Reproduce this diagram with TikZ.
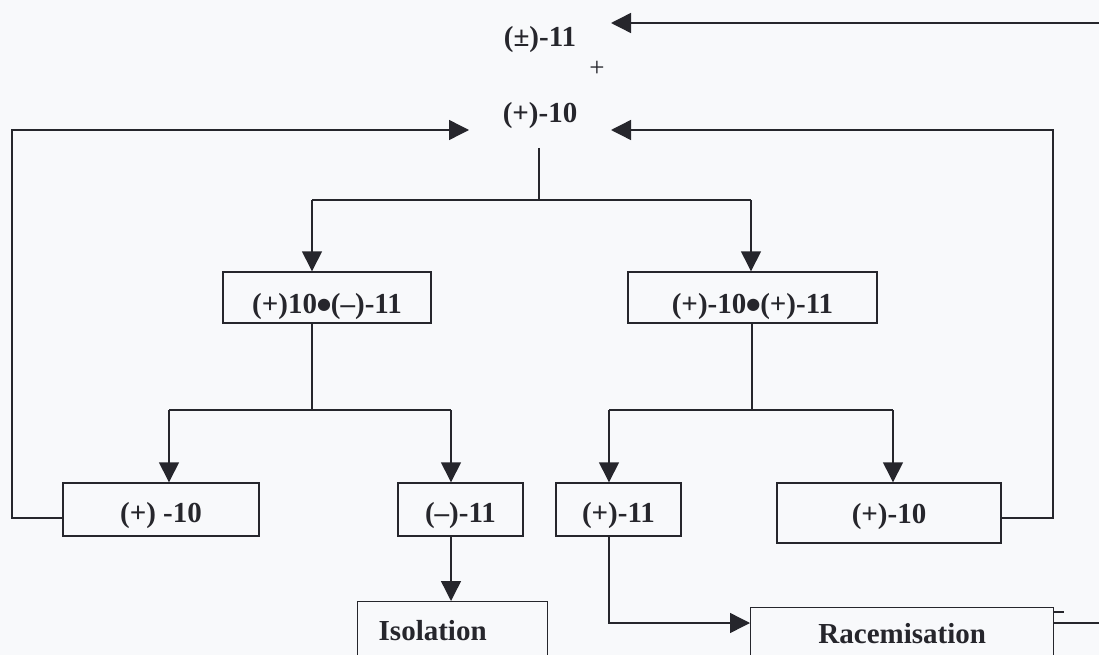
\documentclass[tikz,border=0pt]{standalone}
\usepackage{fontspec}
\setmainfont{Liberation Serif}
\newfontfamily\dejavu{DejaVu Sans}
\newcommand{\bigdot}{{\dejavu\fontsize{16}{16}\selectfont\raisebox{4pt}{●}}}
\usetikzlibrary{arrows.meta}
\definecolor{bg}{RGB}{248,249,251}
\definecolor{ink}{RGB}{38,38,44}
\begin{document}
\begin{tikzpicture}[x=1pt,y=-1pt,
  ln/.style={draw=ink,line width=1.4pt},
  arr/.style={ln,-{Triangle[length=20pt,width=20pt]}},
  txt/.style={inner sep=0pt,text=ink,font=\bfseries\fontsize{29}{34}\selectfont},
  plussign/.style={inner sep=0pt,text=ink,font=\fontsize{27}{32}\selectfont},
  box/.style={txt,draw=ink,line width=1.4pt},
  midbox/.style={box,text height=31pt,text depth=0pt,minimum height=51pt},
  rowbox/.style={box,text height=25pt,text depth=0pt,minimum height=53pt},
  lowbox/.style={box,anchor=north west,text depth=44pt}]
\useasboundingbox (0,0) rectangle (1099,655);
\fill[bg] (0,0) rectangle (1099,655);
\clip (0,0) rectangle (1099,655);

% top labels
\node[txt] (t11) at (540,40) {(±)-11};
\node[plussign] (pl) at (597,69) {+};
\node[txt] (t10) at (540,116) {(+)-10};

% boxes
\node[midbox,minimum width=208pt] (b1) at (327,297.5) {(+)10\bigdot(–)-11};
\node[midbox,minimum width=249pt] (b2) at (752.5,297.5) {(+)-10\bigdot(+)-11};
\node[rowbox,minimum width=196pt] (c1) at (161,509.5) {(+) -10};
\node[rowbox,minimum width=125pt] (c2) at (460.5,509.5) {(–)-11};
\node[rowbox,minimum width=125pt] (c3) at (618.5,509.5) {(+)-11};
\node[box,text height=20pt,text depth=0pt,minimum width=224pt,minimum height=60pt] (c4) at (889,513) {(+)-10};
\node[lowbox,text height=39pt,text width=148pt,align=left,inner xsep=21pt] (d1) at (357,601) {Isolation};
\node[lowbox,text height=36pt,minimum width=303pt,align=center] (d2) at (750,607) {Racemisation};

% coordinates
\coordinate (t11R) at (611,23);
\coordinate (topR) at (1110,23);
\coordinate (t10L) at (469,130);
\coordinate (t10R) at (611,130);
\coordinate (t10s) at (539,148);
\coordinate (j0) at (539,200);
\coordinate (j1) at (312,200);
\coordinate (j2) at (751,200);
\coordinate (k1) at (312,410);
\coordinate (kL) at (169,410);
\coordinate (kR) at (451,410);
\coordinate (m1) at (752,410);
\coordinate (mL) at (609,410);
\coordinate (mR) at (893,410);
\coordinate (yl) at (0,518);
\coordinate (lc) at (12,130);
\coordinate (rc) at (1053,130);
\coordinate (r1) at (0,623);
\coordinate (rEnd) at (1110,623);
\coordinate (tk) at (0,612);
\coordinate (tkEnd) at (1064,612);

% connectors
\draw[arr] (topR) -- (t11R);
\draw[ln] (t10s) -- (j0);
\draw[ln] (j1) -- (j2);
\draw[arr] (j1) -- (j1 |- b1.north);
\draw[arr] (j2) -- (j2 |- b2.north);
\draw[ln] (k1 |- b1.south) -- (k1);
\draw[ln] (kL) -- (kR);
\draw[arr] (kL) -- (kL |- c1.north);
\draw[arr] (kR) -- (kR |- c2.north);
\draw[ln] (m1 |- b2.south) -- (m1);
\draw[ln] (mL) -- (mR);
\draw[arr] (mL) -- (mL |- c3.north);
\draw[arr] (mR) -- (mR |- c4.north);
\draw[arr] (kR |- c2.south) -- (kR |- d1.north);
\draw[arr] (mL |- c3.south) |- (d2.west |- r1);
\draw[arr] (c1.west |- yl) -| (lc) -- (t10L);
\draw[arr] (c4.east |- yl) -| (rc) -- (t10R);
\draw[ln] (d2.east |- r1) -- (rEnd);
\draw[ln] (d2.east |- tk) -- (tkEnd);
\end{tikzpicture}
\end{document}
